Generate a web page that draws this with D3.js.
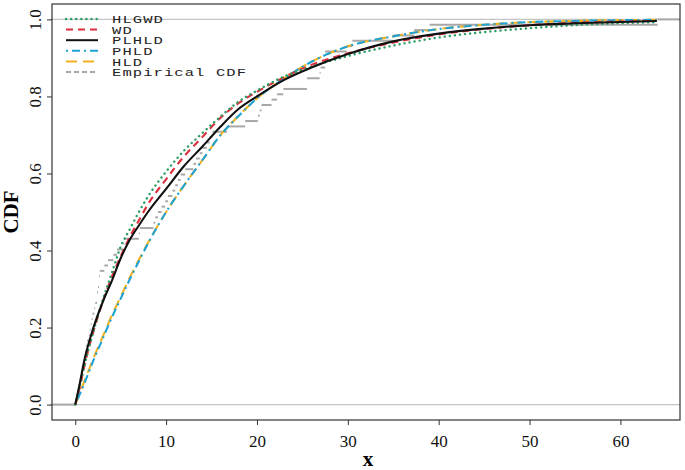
<!DOCTYPE html>
<html>
<head>
<meta charset="utf-8">
<script src="https://cdn.jsdelivr.net/npm/d3@7"></script>
<style>
  body { margin: 0; background: #fff; }
  text { font-family: "Liberation Serif", "Times New Roman", Times, serif; }
</style>
</head>
<body>
<div id="my_dataviz"></div>
<script>
var sample = [0.1, 0.2, 0.4, 0.5, 0.6, 0.7, 0.8, 0.9, 1.0, 1.1, 1.2, 1.3, 1.5, 1.6, 1.7, 1.8,
  1.9, 2.1, 2.2, 2.4, 2.4, 2.5, 2.6, 2.6, 2.7, 3.2, 3.6, 4.2, 4.6, 5.3, 5.4, 7.0, 7.1, 8.6,
  8.8, 9.1, 9.5, 9.9, 10.2, 10.7, 11.0, 11.3, 11.6, 12.1, 13.0, 13.3, 13.7, 14.0, 14.5, 14.8,
  15.1, 16.7, 18.7, 20.1, 20.3, 20.5, 21.6, 22.2, 22.9, 25.5, 25.5, 26.9, 27.0, 27.5, 27.5,
  27.5, 29.9, 30.5, 35.0, 37.3, 39.0, 64.1]

// fitted CDFs, read at these x values
var xs = [0, 0.5, 1, 2, 3, 4, 5, 6, 7, 8, 10, 12, 14, 16, 18, 20, 23, 26, 30, 35, 40, 45, 50, 55, 64]
var hlgwd = [0, 0.05, 0.10, 0.19, 0.27, 0.34, 0.41, 0.455, 0.50, 0.54, 0.605, 0.66, 0.705, 0.748, 0.787, 0.815, 0.852, 0.877, 0.905, 0.932, 0.953, 0.967, 0.977, 0.985, 0.993]
var wd = [0, 0.045, 0.10, 0.19, 0.265, 0.33, 0.385, 0.435, 0.478, 0.52, 0.585, 0.645, 0.695, 0.745, 0.783, 0.812, 0.85, 0.882, 0.912, 0.94, 0.961, 0.975, 0.985, 0.991, 0.996]
var plhld = [0, 0.055, 0.115, 0.20, 0.265, 0.32, 0.38, 0.428, 0.465, 0.50, 0.56, 0.62, 0.67, 0.722, 0.768, 0.80, 0.843, 0.875, 0.91, 0.943, 0.963, 0.976, 0.985, 0.99, 0.996]
var phld = [0, 0.027, 0.055, 0.115, 0.17, 0.225, 0.275, 0.325, 0.372, 0.418, 0.50, 0.57, 0.635, 0.70, 0.75, 0.795, 0.847, 0.89, 0.93, 0.956, 0.975, 0.986, 0.993, 0.996, 0.999]
var hld = [0, 0.03, 0.06, 0.12, 0.175, 0.23, 0.28, 0.33, 0.376, 0.42, 0.50, 0.57, 0.635, 0.70, 0.75, 0.795, 0.847, 0.89, 0.93, 0.956, 0.975, 0.986, 0.993, 0.996, 0.999]

var names = ["HLGWD", "WD", "PLHLD", "PHLD", "HLD", "Empirical CDF"]
var colors = ["#2a9d63", "#dc2f3c", "#111111", "#1fa2d6", "#f2b21f", "#a8a8a8"]
var dashes = ["0.1,5", "7,5", null, "2,4,8,4", "11,6", "5,3"]

var serif = "'Liberation Serif', 'Times New Roman', Times, serif"
var mono = "'Liberation Mono', 'Courier New', Courier, monospace"

var width = 685, height = 470
var box = { left: 52, right: 680, top: 4, bottom: 420 }

var svg = d3.select("#my_dataviz")
  .append("svg")
  .attr("width", width)
  .attr("height", height)

// R style 4% padding around xlim = [0, 64], ylim = [0, 1]
var x = d3.scaleLinear().domain([-2.56, 66.56]).range([box.left, box.right])
var y = d3.scaleLinear().domain([-0.04, 1.04]).range([box.bottom, box.top])

// reference lines at 0 and 1
svg.selectAll(".hline")
  .data([0, 1])
  .enter()
  .append("line")
  .attr("x1", box.left - 2)
  .attr("x2", box.right)
  .attr("y1", function (d) { return y(d) })
  .attr("y2", function (d) { return y(d) })
  .attr("stroke", "#c4c4c4")
  .attr("stroke-width", 1.2)

// empirical CDF as horizontal steps
var n = sample.length
var steps = []
steps.push({ x0: -2.56, x1: sample[0], f: 0 })
for (var i = 0; i < n; i++) {
  if (i < n - 1 && sample[i + 1] == sample[i]) continue
  var next = i < n - 1 ? sample[i + 1] : 66.56
  steps.push({ x0: sample[i], x1: next, f: (i + 1) / n })
}
svg.append("g")
  .selectAll("line")
  .data(steps)
  .enter()
  .append("line")
  .attr("x1", function (d) { return x(d.x0) })
  .attr("x2", function (d) { return x(d.x1) })
  .attr("y1", function (d) { return y(d.f) })
  .attr("y2", function (d) { return y(d.f) })
  .attr("stroke", colors[5])
  .attr("stroke-width", 2)

// fitted curves
var series = [hlgwd, wd, plhld, phld, hld]
var line = d3.line()
  .x(function (d) { return x(d[0]) })
  .y(function (d) { return y(d[1]) })
  .curve(d3.curveMonotoneX)
var drawOrder = [4, 3, 1, 0, 2]
drawOrder.forEach(function (k) {
  svg.append("path")
    .datum(xs.map(function (v, j) { return [v, series[k][j]] }))
    .attr("d", line)
    .attr("fill", "none")
    .attr("stroke", colors[k])
    .attr("stroke-width", k == 0 ? 2.4 : 2.1)
    .attr("stroke-linecap", k == 0 ? "round" : "butt")
    .attr("stroke-dasharray", dashes[k])
})

// box
svg.append("rect")
  .attr("x", box.left)
  .attr("y", box.top)
  .attr("width", box.right - box.left)
  .attr("height", box.bottom - box.top)
  .attr("fill", "none")
  .attr("stroke", "#333")
  .attr("stroke-width", 1.2)

// axes
var xAxis = svg.append("g")
  .attr("transform", "translate(0," + box.bottom + ")")
  .call(d3.axisBottom(x).tickValues([0, 10, 20, 30, 40, 50, 60]).tickSize(5).tickPadding(10))
xAxis.attr("font-family", serif)
xAxis.select(".domain").remove()
xAxis.selectAll("text").attr("font-size", 17).style("font-family", serif).attr("fill", "#111")
xAxis.selectAll(".tick line").attr("stroke", "#333")

var yAxis = svg.append("g")
  .attr("transform", "translate(" + box.left + ",0)")
  .call(d3.axisLeft(y).tickValues([0, 0.2, 0.4, 0.6, 0.8, 1]).tickFormat(d3.format(".1f")).tickSize(5))
yAxis.attr("font-family", serif)
yAxis.select(".domain").remove()
yAxis.selectAll(".tick line").attr("stroke", "#333")
yAxis.selectAll("text")
  .attr("x", 0).attr("dy", 0)
  .attr("transform", "translate(-11,0) rotate(-90)")
  .attr("text-anchor", "middle")
  .attr("font-size", 17).style("font-family", serif).attr("fill", "#111")

// axis titles
svg.append("text")
  .attr("x", (box.left + box.right) / 2 + 2)
  .attr("y", 466)
  .attr("text-anchor", "middle")
  .style("font-family", serif)
  .style("font-size", "21px")
  .style("font-weight", "bold")
  .text("x")

svg.append("text")
  .attr("transform", "translate(18," + (box.top + box.bottom) / 2 + ") rotate(-90)")
  .attr("text-anchor", "middle")
  .style("font-family", serif)
  .style("font-size", "21px")
  .style("font-weight", "bold")
  .text("CDF")

// legend
var legend = svg.append("g")
var rowY = function (i) { return 19 + i * 10.6 }
legend.selectAll("line")
  .data(names)
  .enter()
  .append("line")
  .attr("x1", 66).attr("x2", 98)
  .attr("y1", function (d, i) { return rowY(i) })
  .attr("y2", function (d, i) { return rowY(i) })
  .attr("stroke", function (d, i) { return colors[i] })
  .attr("stroke-width", function (d, i) { return i == 0 ? 2.4 : 2 })
  .attr("stroke-linecap", function (d, i) { return i == 0 ? "round" : "butt" })
  .attr("stroke-dasharray", function (d, i) { return dashes[i] })
legend.selectAll("text")
  .data(names)
  .enter()
  .append("text")
  .attr("transform", function (d, i) { return "translate(112," + (rowY(i) + 4.2) + ") scale(1,0.76)" })
  .style("font-family", mono)
  .style("font-size", "15.5px")
  .style("letter-spacing", "1.1px")
  .attr("fill", "#222")
  .text(function (d) { return d })
</script>
</body>
</html>
